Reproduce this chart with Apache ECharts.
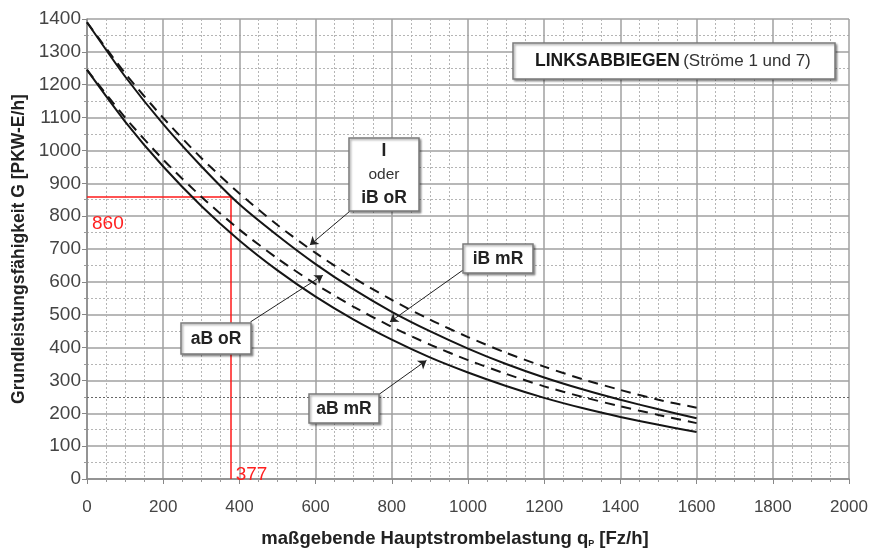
<!DOCTYPE html>
<html>
<head>
<meta charset="utf-8">
<script src="https://cdn.jsdelivr.net/npm/echarts@6/dist/echarts.min.js"></script>
<style>
  html, body { margin: 0; padding: 0; background: #fff; }
  #chart { width: 869px; height: 548px; }
</style>
</head>
<body>
<div id="chart"></div>
<script>
// Maßgebende Hauptstrombelastung q_P [Fz/h]
const flowSteps = [0, 100, 200, 300, 400, 500, 600, 700, 800, 900, 1000, 1100, 1200, 1300, 1400, 1500, 1600];

// Grundleistungsfähigkeit G [PKW-E/h] per case
const capIoderIbOR = [1390, 1235, 1099, 977, 869, 773, 688, 612, 545, 485, 432, 384, 342, 304, 271, 241, 217];
const capAbOR      = [1390, 1225, 1080, 952, 836, 741, 654, 577, 509, 450, 397, 350, 309, 273, 241, 212, 185];
const capIbMR      = [1245, 1100, 972, 859, 759, 671, 593, 524, 463, 409, 362, 320, 282, 250, 221, 195, 170];
const capAbMR      = [1245, 1088, 951, 831, 726, 635, 555, 485, 424, 370, 324, 283, 247, 216, 189, 165, 143];

// Worked example: q_P = 377 Fz/h gives G = 860 PKW-E/h
const exampleFlow = 377;
const exampleCap = 860;

const yTicks = { min: 0, max: 1400, step: 100 };
const xTicks = { min: 0, max: 2000, step: 200 };

// Callout arrows in data units: [from, to]
const calloutArrows = [
  [[690, 815], [585, 712]],   // I oder iB oR
  [[987, 636], [795, 478]],   // iB mR
  [[429, 478], [619, 620]],   // aB oR
  [[767, 258], [891, 361]]    // aB mR
];

const FONT = '"Liberation Sans", Arial, sans-serif';

function pairs(ys) { return flowSteps.map((x, i) => [x, ys[i]]); }
function plain(v) { return String(v); }

const curveBase = {
  type: 'line', showSymbol: false, smooth: 0.25, silent: true, z: 5
};

const chart = echarts.init(document.getElementById('chart'), null, { renderer: 'canvas' });

const option = {
  animation: false,
  backgroundColor: '#fff',
  grid: { left: 87, right: 20, top: 19, bottom: 69, containLabel: false, outerBoundsMode: 'none' },
  xAxis: {
    type: 'value', min: xTicks.min, max: xTicks.max, interval: xTicks.step,
    name: '{b|maßgebende Hauptstrombelastung q}{s|P}{b| [Fz/h]}',
    nameLocation: 'middle', nameGap: 50,
    nameTextStyle: {
      padding: [0, 26, 0, 0],
      rich: {
        b: { fontFamily: FONT, fontWeight: 'bold', fontSize: 18.5, color: '#222' },
        s: { fontFamily: FONT, fontWeight: 'bold', fontSize: 9, color: '#222', verticalAlign: 'bottom', padding: [8, 0, 0, 0] }
      }
    },
    axisLine: { show: true, lineStyle: { color: '#888', width: 1.5 } },
    axisTick: { show: true, length: 5, lineStyle: { color: '#888' } },
    minorTick: { show: true, splitNumber: 4, length: 3, lineStyle: { color: '#999' } },
    axisLabel: { fontFamily: FONT, fontSize: 17, color: '#444', margin: 20, formatter: plain },
    splitLine: { show: true, lineStyle: { color: '#a0a0a0', width: 1.5 } },
    minorSplitLine: { show: true, lineStyle: { color: '#b5b5b5', width: 1, type: [2, 2] } }
  },
  yAxis: {
    type: 'value', min: yTicks.min, max: yTicks.max, interval: yTicks.step,
    name: 'Grundleistungsfähigkeit G [PKW-E/h]',
    nameLocation: 'middle', nameGap: 59,
    nameTextStyle: { fontFamily: FONT, fontWeight: 'bold', fontSize: 17.5, color: '#222' },
    axisLine: { show: true, lineStyle: { color: '#888', width: 1.5 } },
    axisTick: { show: true, length: 5, lineStyle: { color: '#888' } },
    minorTick: { show: true, splitNumber: 2, length: 3, lineStyle: { color: '#999' } },
    axisLabel: { fontFamily: FONT, fontSize: 19, color: '#444', margin: 6, formatter: plain },
    splitLine: { show: true, lineStyle: { color: '#a0a0a0', width: 1.5 } },
    minorSplitLine: { show: true, lineStyle: { color: '#b5b5b5', width: 1, type: [2, 2] } }
  },
  series: [
    Object.assign({}, curveBase, {
      name: 'I oder iB oR', data: pairs(capIoderIbOR),
      lineStyle: { color: '#151515', width: 2, type: [10, 7] }
    }),
    Object.assign({}, curveBase, {
      name: 'aB oR', data: pairs(capAbOR),
      lineStyle: { color: '#151515', width: 2 }
    }),
    Object.assign({}, curveBase, {
      name: 'iB mR', data: pairs(capIbMR),
      lineStyle: { color: '#151515', width: 2, type: [10, 7] }
    }),
    Object.assign({}, curveBase, {
      name: 'aB mR', data: pairs(capAbMR),
      lineStyle: { color: '#151515', width: 2 }
    }),
    {
      // guide lines for the worked example, plus the heavier 250 gridline
      type: 'line', data: [], silent: true, z: 6,
      markLine: {
        silent: true, symbol: 'none', label: { show: false }, animation: false,
        data: [
          [{ coord: [0, exampleCap], lineStyle: { color: '#ff1a1a', width: 1.5, type: 'solid' } }, { coord: [exampleFlow, exampleCap] }],
          [{ coord: [exampleFlow, 0], lineStyle: { color: '#ff1a1a', width: 1.5, type: 'solid' } }, { coord: [exampleFlow, exampleCap] }],
          [{ coord: [0, 250], lineStyle: { color: '#666', width: 1, type: [2, 2] } }, { coord: [2000, 250] }]
        ]
      }
    },
    {
      // callout arrows
      type: 'line', data: [], silent: true, z: 7,
      markLine: {
        silent: true, symbol: ['none', 'arrow'], symbolSize: 8, animation: false,
        label: { show: false },
        lineStyle: { color: '#222', width: 1, type: 'solid' },
        itemStyle: { color: '#222' },
        data: calloutArrows.map(a => [{ coord: a[0] }, { coord: a[1] }])
      }
    }
  ]
};

chart.setOption(option);

// Annotation boxes and red value labels
function box(x, y, w, h) {
  return {
    type: 'rect', z: 20,
    shape: { x: x, y: y, width: w, height: h },
    style: {
      fill: '#fff', stroke: '#7a7a7a', lineWidth: 1.5,
      shadowBlur: 2, shadowOffsetX: 1.5, shadowOffsetY: 1.5, shadowColor: 'rgba(0,0,0,0.35)'
    }
  };
}
function label(text, x, y, size, weight, color) {
  return {
    type: 'text', z: 21,
    style: {
      text: text, x: x, y: y, align: 'center', verticalAlign: 'middle',
      fontFamily: FONT, fontSize: size, fontWeight: weight || 'bold', fill: color || '#222'
    }
  };
}

const pCap = chart.convertToPixel({ gridIndex: 0 }, [0, exampleCap]);
const pFlow = chart.convertToPixel({ gridIndex: 0 }, [exampleFlow, 0]);

chart.setOption({
  graphic: [
    box(513, 43, 322, 36),
    {
      type: 'text', z: 21,
      style: {
        text: '{b|LINKSABBIEGEN} {n|(Ströme 1 und 7)}',
        x: 535, y: 61, align: 'left', verticalAlign: 'middle',
        rich: {
          b: { fontFamily: FONT, fontWeight: 'bold', fontSize: 17.5, fill: '#1a1a1a' },
          n: { fontFamily: FONT, fontSize: 17, fill: '#333' }
        }
      }
    },
    box(349, 138, 70, 73),
    label('I', 384, 151, 17.5, 'bold'),
    label('oder', 384, 175, 15.5, 'normal', '#333'),
    label('iB oR', 384, 198, 17.5, 'bold'),
    box(463, 244, 70, 29),
    label('iB mR', 498, 259, 17.5, 'bold'),
    box(181, 323, 70, 31),
    label('aB oR', 216, 339, 17.5, 'bold'),
    box(309, 394, 70, 29),
    label('aB mR', 344, 409, 17.5, 'bold'),
    {
      type: 'text', z: 21,
      style: {
        text: String(exampleCap), x: pCap[0] + 5, y: pCap[1] + 27,
        align: 'left', verticalAlign: 'middle',
        fontFamily: FONT, fontSize: 19, fill: '#ff2020'
      }
    },
    {
      type: 'text', z: 21,
      style: {
        text: String(exampleFlow), x: pFlow[0] + 5, y: pFlow[1] - 4,
        align: 'left', verticalAlign: 'middle',
        fontFamily: FONT, fontSize: 19, fill: '#ff2020'
      }
    }
  ]
});
</script>
</body>
</html>
